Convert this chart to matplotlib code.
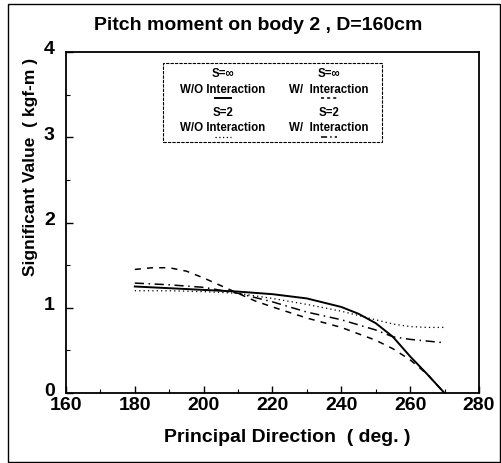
import matplotlib
matplotlib.use("Agg")
import matplotlib.pyplot as plt
from matplotlib.lines import Line2D
from matplotlib.patches import Rectangle
from matplotlib.ticker import MultipleLocator
from matplotlib.transforms import ScaledTranslation

plt.rcParams['font.family'] = ['Liberation Sans', 'DejaVu Sans']
plt.rcParams['font.weight'] = 'bold'

# Data
deg_solid = [180, 190, 200, 210, 220, 230, 240, 245, 250, 255, 260, 265, 270]
sinf_wo = [1.25, 1.23, 1.21, 1.19, 1.16, 1.11, 1.01, 0.93, 0.82, 0.66, 0.43, 0.22, 0.0]

deg_dash = [180, 185, 190, 195, 200, 205, 210, 215, 220, 230, 240, 250, 255, 260, 265, 270]
sinf_w = [1.45, 1.47, 1.47, 1.43, 1.35, 1.26, 1.17, 1.08, 1.01, 0.88, 0.77, 0.62, 0.52, 0.39, 0.22, 0.0]

deg_s2 = [180, 190, 200, 210, 220, 230, 240, 250, 255, 260, 265, 270]
s2_wo = [1.20, 1.20, 1.19, 1.17, 1.11, 1.04, 0.96, 0.86, 0.81, 0.78, 0.77, 0.77]
s2_w = [1.29, 1.27, 1.24, 1.17, 1.07, 0.95, 0.86, 0.74, 0.66, 0.63, 0.61, 0.59]

legend_top = ["S=\u221e", "S=\u221e", "S=2", "S=2"]
legend_bottom = ["W/O Interaction", "W/  Interaction", "W/O Interaction", "W/  Interaction"]

fig = plt.figure(figsize=(5.01, 4.63), dpi=100)
ax = fig.add_axes([0.1317, 0.151, 0.8243, 0.7367])

ax.plot(deg_solid, sinf_wo, color='black', lw=1.4, ls='-')
ax.plot(deg_dash, sinf_w, color='black', lw=1.1, ls=(0, (4, 4)))
ax.plot(deg_s2, s2_wo, color='black', lw=0.9, ls=(0, (1, 2.5)))
ax.plot(deg_s2, s2_w, color='black', lw=1.1, ls=(0, (6, 3, 1, 3)))

ax.set_xlim(160, 280)
ax.set_ylim(0, 4)
ax.xaxis.set_major_locator(MultipleLocator(20))
ax.xaxis.set_minor_locator(MultipleLocator(10))
ax.yaxis.set_major_locator(MultipleLocator(1))
ax.yaxis.set_minor_locator(MultipleLocator(0.5))
ax.tick_params(which='both', direction='in', top=False, right=False)
ax.tick_params(which='major', length=5, width=1, labelsize=14)
ax.tick_params(axis='x', which='major', pad=3)
ax.tick_params(axis='y', which='major', pad=8)
ax.tick_params(which='minor', length=3, width=0.8)
shift_up = ScaledTranslation(0, 4 / 100, fig.dpi_scale_trans)
for lab in ax.get_yticklabels():
    lab.set_transform(lab.get_transform() + shift_up)
for lab in ax.get_xticklabels() + ax.get_yticklabels():
    lab.set_fontweight('bold')
for sp in ax.spines.values():
    sp.set_linewidth(1.3)

# hand-made legend box like the original
ax.add_patch(Rectangle((0.235, 0.736), 0.53, 0.232, transform=ax.transAxes,
                       fill=False, ec='black', lw=0.8, ls=(0, (3, 1))))
styles = [dict(lw=1.4, ls='-'), dict(lw=1.1, ls=(0, (2, 2))),
          dict(lw=0.9, ls=(0, (1, 2))), dict(lw=1.1, ls=(0, (4, 2, 1, 2)))]
cols = [0.38, 0.637]
rows = [(0.936, 0.888, 0.864), (0.822, 0.777, 0.752)]
for i in range(4):
    cx = cols[i % 2]
    y1, y2, ly = rows[i // 2]
    ax.text(cx, y1, legend_top[i], transform=ax.transAxes, ha='center', va='center',
            fontsize=8.3, fontweight='bold')
    ax.text(cx, y2, legend_bottom[i], transform=ax.transAxes, ha='center', va='center',
            fontsize=8.3, fontweight='bold')
    ax.add_line(Line2D([cx - 0.02, cx + 0.02], [ly, ly], transform=ax.transAxes,
                       color='black', **styles[i]))

fig.text(0.515, 0.946, "Pitch moment on body 2 , D=160cm", ha='center', va='center',
         fontsize=14, fontweight='bold')
fig.text(0.573, 0.054, "Principal Direction  ( deg. )", ha='center', va='center',
         fontsize=14, fontweight='bold')
fig.text(0.06, 0.64, "Significant Value  ( kgf-m )", ha='center', va='center',
         rotation=90, fontsize=12.5, fontweight='bold')

fig.patches.append(Rectangle((0.016, 0.002), 0.982, 0.99, transform=fig.transFigure,
                             fill=False, ec='black', lw=1.0))

fig.savefig("out.png", dpi=100)
